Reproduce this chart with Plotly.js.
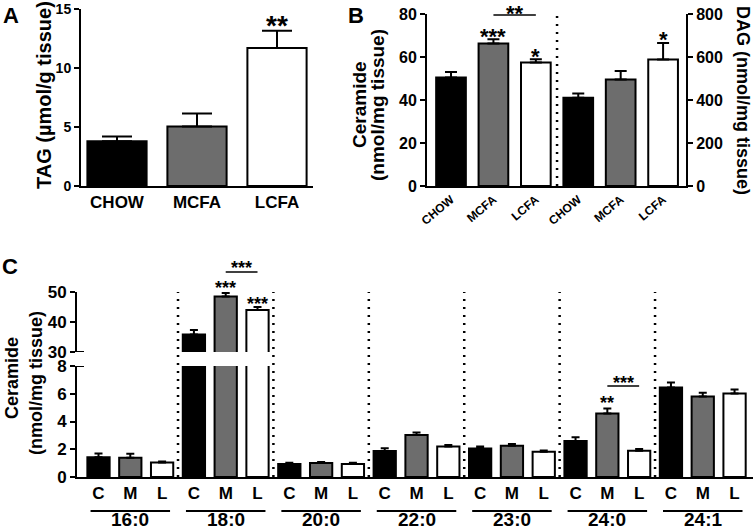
<!DOCTYPE html>
<html>
<head>
<meta charset="utf-8">
<script src="https://cdn.plot.ly/plotly-3.0.1.min.js"></script>
<style>html,body{margin:0;padding:0;background:#fff}#chart{width:755px;height:532px}</style>
</head>
<body>
<div id="chart"></div>
<script>
// ---------- Data ----------
const dietsA = ['CHOW', 'MCFA', 'LCFA'];
const tagMean = [3.8, 5.05, 11.7];
const tagSem = [0.4, 1.1, 1.45];

const dietsB = ['CHOW', 'MCFA', 'LCFA'];
const cerTotalMean = [50.5, 66.3, 57.5];
const cerTotalSem = [2.5, 2.0, 1.5];
const dagMean = [410, 495, 588];
const dagSem = [20, 40, 77];

const species = ['16:0', '18:0', '20:0', '22:0', '23:0', '24:0', '24:1'];
const dietShort = ['C', 'M', 'L'];
const cerChow = [1.42, 35.8, 0.94, 1.88, 2.05, 2.6, 6.45];
const cerChowSem = [0.28, 1.5, 0.09, 0.2, 0.14, 0.27, 0.36];
const cerMcfa = [1.38, 48.5, 1.0, 3.03, 2.25, 4.58, 5.8];
const cerMcfaSem = [0.3, 1.2, 0.09, 0.17, 0.12, 0.36, 0.28];
const cerLcfa = [1.04, 44.0, 0.93, 2.19, 1.82, 1.9, 6.02];
const cerLcfaSem = [0.08, 1.0, 0.1, 0.12, 0.09, 0.12, 0.29];

// ---------- Styles ----------
const FONT = 'Liberation Sans, Arial, sans-serif';
const BLACK = '#000000', GREY = '#6d6d6d', WHITE = '#ffffff';
const dietColors = [BLACK, GREY, WHITE];
const f = (size) => ({family: FONT, size: size, color: BLACK, weight: 'bold'});
const zeros = (a) => a.map(() => 0);
const errY = (arr, w) => ({type: 'data', symmetric: false, array: arr, arrayminus: zeros(arr),
  color: BLACK, thickness: 2, width: w});

const traces = [];
// Panel A
traces.push({type: 'bar', x: dietsA.map((d, i) => i), y: tagMean, xaxis: 'x', yaxis: 'y',
  width: 0.74, marker: {color: dietColors, line: {color: BLACK, width: 2}},
  error_y: errY(tagSem, 15), hoverinfo: 'none'});
// Panel B
traces.push({type: 'bar', x: dietsB.map((d, i) => i), y: cerTotalMean, xaxis: 'x2', yaxis: 'y2',
  width: 0.7, marker: {color: dietColors, line: {color: BLACK, width: 2}},
  error_y: errY(cerTotalSem, 6), hoverinfo: 'none'});
traces.push({type: 'bar', x: dietsB.map((d, i) => i + dietsB.length), y: dagMean, xaxis: 'x2', yaxis: 'y3',
  width: 0.7, marker: {color: dietColors, line: {color: BLACK, width: 2}},
  error_y: errY(dagSem, 6), hoverinfo: 'none'});
// Panel C (lower and upper part of the broken axis)
const cSeries = [[cerChow, cerChowSem], [cerMcfa, cerMcfaSem], [cerLcfa, cerLcfaSem]];
['y4', 'y5'].forEach(ya => {
  cSeries.forEach((s, d) => {
    traces.push({type: 'bar', x: species.map((sp, g) => g * 3 + d), y: s[0], xaxis: 'x3', yaxis: ya,
      width: 0.7, marker: {color: dietColors[d], line: {color: BLACK, width: 2}},
      error_y: errY(s[1], 4), hoverinfo: 'none'});
  });
});

const axBase = {showline: true, linecolor: BLACK, linewidth: 2, ticks: 'outside', ticklen: 5,
  tickwidth: 2, tickcolor: BLACK, showgrid: false, zeroline: false, fixedrange: true};

const pY = (px) => 1 - px / 532;
const pX = (px) => px / 755;

const layout = {
  width: 755, height: 532, margin: {l: 0, r: 0, t: 0, b: 0},
  paper_bgcolor: WHITE, plot_bgcolor: 'rgba(0,0,0,0)', showlegend: false,
  font: f(14), barmode: 'overlay',
  xaxis: Object.assign({}, axBase, {domain: [pX(81), pX(313)], range: [-0.45, 2.45], anchor: 'y',
    tickvals: [0, 1, 2], ticktext: dietsA, ticks: '', tickfont: f(17)}),
  yaxis: Object.assign({}, axBase, {domain: [pY(186), pY(9)], range: [0, 15], anchor: 'x',
    tickvals: [0, 5, 10, 15], tickfont: f(14)}),
  xaxis2: Object.assign({}, axBase, {domain: [pX(427), pX(686)], range: [-0.566, 5.54], anchor: 'y2',
    tickvals: [0, 1, 2, 3, 4, 5], ticktext: dietsB.concat(dietsB), ticks: '', tickangle: -40, tickfont: f(12)}),
  yaxis2: Object.assign({}, axBase, {domain: [pY(186), pY(14)], range: [0, 80], anchor: 'x2',
    dtick: 20, tickfont: f(16)}),
  yaxis3: Object.assign({}, axBase, {overlaying: 'y2', side: 'right', anchor: 'x2', range: [0, 800],
    dtick: 200, tickfont: f(16)}),
  xaxis3: Object.assign({}, axBase, {domain: [pX(77), pX(753)], range: [-0.676, 20.58], anchor: 'y4',
    tickvals: species.flatMap((s, g) => [g * 3, g * 3 + 1, g * 3 + 2]),
    ticktext: species.flatMap(() => dietShort), ticks: '', tickfont: f(17)}),
  yaxis4: Object.assign({}, axBase, {domain: [pY(477), pY(366)], range: [0, 8], anchor: 'x3',
    dtick: 2, tickfont: f(17)}),
  yaxis5: Object.assign({}, axBase, {domain: [pY(352), pY(292)], range: [30, 50], anchor: 'x3',
    dtick: 10, tickfont: f(17)}),
  shapes: [], annotations: []
};

const dotted = {color: BLACK, width: 2.5, dash: '2px,6px'};
// B separator
layout.shapes.push({type: 'line', xref: 'x2', yref: 'y2', x0: 2.5, x1: 2.5, y0: 0, y1: 80, line: dotted});
// C separators
for (let g = 1; g < species.length; g++) {
  layout.shapes.push({type: 'line', xref: 'x3', yref: 'paper', x0: g * 3 - 0.5, x1: g * 3 - 0.5,
    y0: pY(477), y1: pY(292), line: dotted});
}
// C group underlines and labels
species.forEach((s, g) => {
  layout.shapes.push({type: 'line', xref: 'x3', yref: 'paper', x0: g * 3 - 0.25, x1: g * 3 + 2.25,
    y0: pY(511), y1: pY(511), line: {color: BLACK, width: 2}});
  layout.annotations.push({xref: 'x3', yref: 'paper', x: g * 3 + 1, y: 0, text: s,
    showarrow: false, font: f(19), xanchor: 'center', yanchor: 'bottom'});
});
// axis break marks
layout.shapes.push({type: 'line', xref: 'paper', yref: 'y5', x0: pX(71), x1: pX(84), y0: 30, y1: 30, line: {color: BLACK, width: 2}});
layout.shapes.push({type: 'line', xref: 'paper', yref: 'y4', x0: pX(71), x1: pX(84), y0: 8, y1: 8, line: {color: BLACK, width: 2}});
// brackets
layout.shapes.push({type: 'line', xref: 'x2', yref: 'paper', x0: 1, x1: 2, y0: pY(15), y1: pY(15), line: {color: BLACK, width: 1.5}});
layout.shapes.push({type: 'line', xref: 'x3', yref: 'paper', x0: 4, x1: 5, y0: pY(272), y1: pY(272), line: {color: BLACK, width: 1.5}});
layout.shapes.push({type: 'line', xref: 'x3', yref: 'paper', x0: 16, x1: 17, y0: pY(386), y1: pY(386), line: {color: BLACK, width: 1.5}});

const star = (xref, x, ypx, txt, size) => ({xref: xref, yref: 'paper', x: x, y: pY(ypx + 0.28 * size),
  text: txt, showarrow: false, font: f(size), xanchor: 'center', yanchor: 'middle'});
layout.annotations.push(star('x', 2, 18, '**', 28));
layout.annotations.push(star('x2', 1, 30, '***', 22));
layout.annotations.push(star('x2', 2, 50, '*', 22));
layout.annotations.push(star('x2', 1.5, 7, '**', 22));
layout.annotations.push(star('x2', 5, 33, '*', 22));
layout.annotations.push(star('x3', 4, 283, '***', 18));
layout.annotations.push(star('x3', 5, 299, '***', 18));
layout.annotations.push(star('x3', 4.5, 263, '***', 18));
layout.annotations.push(star('x3', 16, 398, '**', 18));
layout.annotations.push(star('x3', 16.5, 378, '***', 18));

const txt = (xpx, ypx, text, size, angle) => ({xref: 'paper', yref: 'paper', x: pX(xpx), y: pY(ypx),
  text: text, showarrow: false, font: f(size), textangle: angle, xanchor: 'center', yanchor: 'middle'});
// panel letters
layout.annotations.push(txt(11, 15, 'A', 22, 0));
layout.annotations.push(txt(356, 15, 'B', 22, 0));
layout.annotations.push(txt(10, 266, 'C', 22, 0));
// axis titles
layout.annotations.push(txt(44, 95, 'TAG (µmol/g tissue)', 20, -90));
layout.annotations.push(txt(359, 105, 'Ceramide', 19, -90));
layout.annotations.push(txt(377, 105, '(nmol/mg tissue)', 19, -90));
layout.annotations.push(txt(743, 100, 'DAG (nmol/mg tissue)', 18, 90));
layout.annotations.push(txt(12, 378, 'Ceramide', 18, -90));
layout.annotations.push(txt(36, 383, '(nmol/mg tissue)', 18, -90));

Plotly.newPlot('chart', traces, layout, {staticPlot: true, displayModeBar: false});
</script>
</body>
</html>
